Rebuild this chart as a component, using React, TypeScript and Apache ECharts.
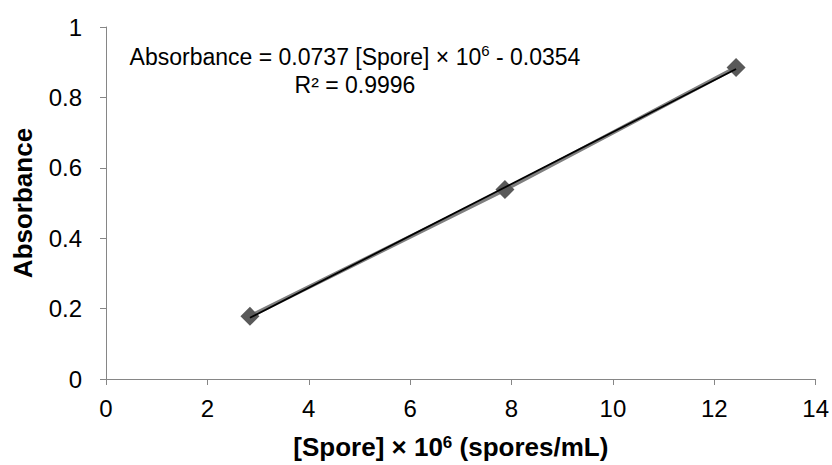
import React, { useEffect, useRef } from "react";
import * as echarts from "echarts";

const sporeConc = [2.84, 7.87, 12.43];
const absorbance = [0.178, 0.538, 0.885];
const slope = 0.0737;
const intercept = -0.0354;
const equationText = "Absorbance = 0.0737 [Spore] × 10{sup|6} - 0.0354\nR² = 0.9996";
const xTitle = "[Spore] × 10{sup|6} (spores/mL)";
const yTitle = "Absorbance";

export default function App() {
  const ref = useRef<HTMLDivElement>(null);
  useEffect(() => {
    if (!ref.current) return;
    const chart = echarts.init(ref.current, null, { renderer: "svg" });
    const pts = sporeConc.map((x, i) => [x, absorbance[i]]);
    const xs0 = sporeConc[0];
    const xs1 = sporeConc[sporeConc.length - 1];
    const trend = [
      [xs0, slope * xs0 + intercept],
      [xs1, slope * xs1 + intercept],
    ];
    const font = "Liberation Sans, Arial, sans-serif";
    chart.setOption({
      animation: false,
      backgroundColor: "#ffffff",
      grid: { left: 106, right: 16, top: 27, bottom: 84.5 },
      xAxis: {
        type: "value",
        min: 0,
        max: 14,
        interval: 2,
        name: xTitle,
        nameLocation: "middle",
        nameGap: 55,
        nameTextStyle: {
          fontFamily: font,
          fontSize: 26,
          fontWeight: "bold",
          color: "#000",
          padding: [0, 20, 0, 0],
          rich: {
            sup: {
              fontFamily: font,
              fontSize: 17,
              fontWeight: "bold",
              color: "#000",
              verticalAlign: "top",
            },
          },
        },
        axisLine: { show: true, lineStyle: { color: "#868686", width: 1 } },
        axisTick: { show: true, length: 6, lineStyle: { color: "#868686" } },
        axisLabel: { fontFamily: font, fontSize: 24, color: "#000", margin: 17 },
        splitLine: { show: false },
      },
      yAxis: {
        type: "value",
        min: 0,
        max: 1,
        interval: 0.2,
        name: yTitle,
        nameLocation: "middle",
        nameGap: 70,
        nameTextStyle: { fontFamily: font, fontSize: 26, fontWeight: "bold", color: "#000" },
        axisLine: { show: true, lineStyle: { color: "#868686", width: 1 } },
        axisTick: { show: true, length: 6, lineStyle: { color: "#868686" } },
        axisLabel: { fontFamily: font, fontSize: 24, color: "#000", margin: 24 },
        splitLine: { show: false },
      },
      series: [
        {
          type: "line",
          data: pts,
          symbol: "diamond",
          symbolSize: 19,
          itemStyle: { color: "#595959" },
          lineStyle: { color: "#7f7f7f", width: 4 },
          z: 2,
        },
        {
          type: "line",
          data: trend,
          symbol: "none",
          lineStyle: { color: "#000000", width: 1.8 },
          z: 3,
        },
      ],
      graphic: [
        {
          type: "text",
          x: 355,
          y: 71,
          style: {
            text: equationText,
            font: `23px ${font}`,
            fill: "#000",
            lineHeight: 28,
            textAlign: "center",
            textVerticalAlign: "middle",
            rich: {
              sup: {
                font: `15px ${font}`,
                fill: "#000",
                verticalAlign: "top",
              },
            },
          },
        },
      ],
    });
    return () => chart.dispose();
  }, []);
  return <div ref={ref} style={{ width: 832, height: 465, position: "absolute", left: 0, top: 0 }} />;
}
